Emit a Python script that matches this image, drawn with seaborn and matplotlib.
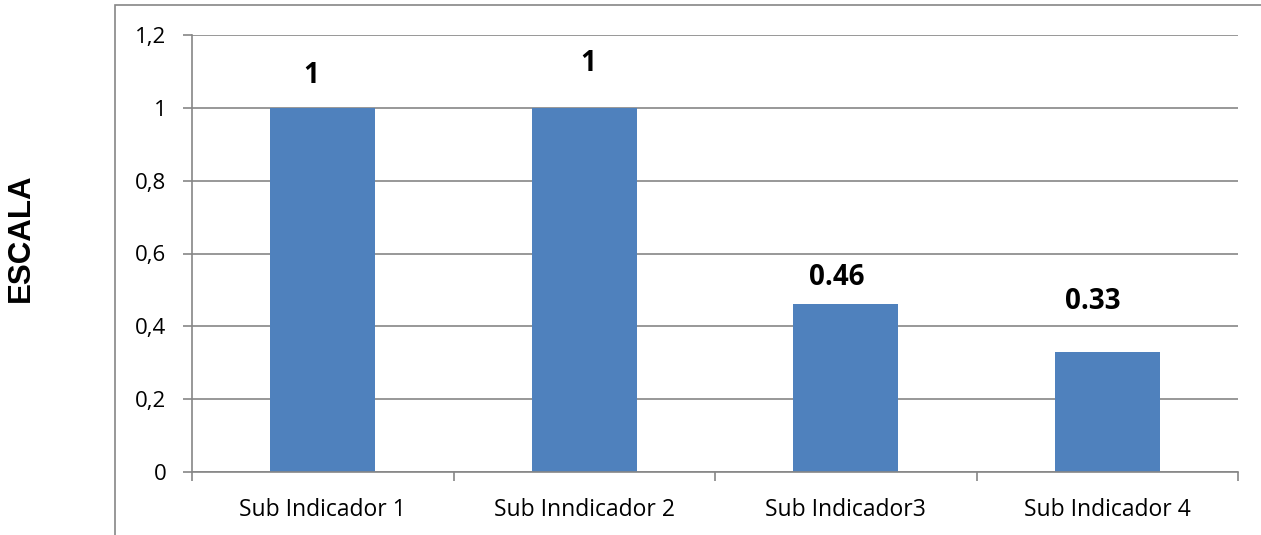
import matplotlib
matplotlib.use("Agg")
import matplotlib.pyplot as plt
from matplotlib.patches import Rectangle
import seaborn as sns
import pandas as pd

# Data
categories = ["Sub Indicador 1", "Sub Inndicador 2", "Sub Indicador3", "Sub Indicador 4"]
values = [1.0, 1.0, 0.46, 0.33]
y_ticks = [0, 0.2, 0.4, 0.6, 0.8, 1.0, 1.2]
y_label = "ESCALA"

# Label nudges (data units) for the value annotations
label_dx = [-0.045, 0.014, -0.033, -0.055]
label_dy = [0.088, 0.121, 0.073, 0.137]

BAR = "#4F81BD"
GRID = "#868686"

sns.set_theme(style="white")
plt.rcParams["font.family"] = ["Open Sans", "DejaVu Sans"]

W, H = 1261, 535
fig = plt.figure(figsize=(W / 100, H / 100), dpi=100)
ax = fig.add_axes([192 / W, 1 - 472 / H, (1238 - 192) / W, (472 - 35) / H])

df = pd.DataFrame({"cat": categories, "val": values})
sns.barplot(data=df, x="cat", y="val", color=BAR, saturation=1, width=0.4,
            linewidth=0, edgecolor=BAR, ax=ax)

ax.set_xlim(-0.5, len(categories) - 0.5)
ax.set_ylim(0, 1.2)
ax.set_yticks(y_ticks)
ax.set_yticklabels([f"{t:g}".replace(".", ",") for t in y_ticks])

ax.set_axisbelow(True)
ax.yaxis.grid(True, color=GRID, linewidth=1.2)
ax.xaxis.grid(False)

for side in ["top", "right"]:
    ax.spines[side].set_visible(False)
for side in ["left", "bottom"]:
    ax.spines[side].set_color(GRID)
    ax.spines[side].set_linewidth(1.2)

# Category separators as small downward ticks on the x axis
ax.set_xticks([i - 0.5 for i in range(len(categories) + 1)], minor=True)
ax.tick_params(axis="x", which="minor", bottom=True, length=6.5, width=1.2, color=GRID)
ax.tick_params(axis="x", which="major", bottom=False, length=0, labelsize=16.5, pad=19,
               labelcolor="black")
ax.tick_params(axis="y", which="major", left=True, length=6.5, width=1.2, color=GRID,
               labelsize=16, pad=12, labelcolor="black")

ax.set_xlabel("")
ax.set_ylabel("")

for i, v in enumerate(values):
    ax.text(i + label_dx[i], v + label_dy[i], f"{v:g}", ha="center", va="center",
            fontsize=20, fontweight="bold", color="black")

fig.text(21 / W, 1 - 238 / H, y_label, rotation=90, ha="center", va="center",
         fontsize=22.5, fontweight="bold", family="Liberation Sans", color="black")

# Outer chart-area frame
fig.add_artist(Rectangle((115 / W, -0.1), 1.0, 1 - 5 / H + 0.1, transform=fig.transFigure,
                         fill=False, edgecolor=GRID, linewidth=1.2))

fig.savefig("out.png", dpi=100, facecolor="white")
